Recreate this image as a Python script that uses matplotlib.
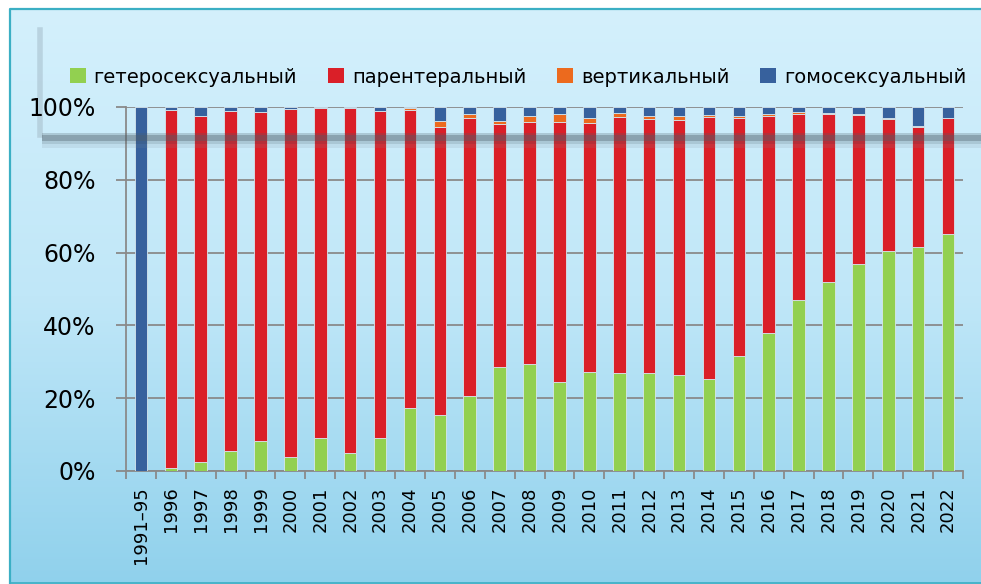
import numpy as np
import matplotlib
matplotlib.use("Agg")
import matplotlib.pyplot as plt
from matplotlib.colors import LinearSegmentedColormap
from matplotlib.patches import Patch, Rectangle

plt.rcParams["font.family"] = ["DejaVu Sans"]

# доли путей передачи, %
years = ["1991–95"] + [str(y) for y in range(1996, 2023)]
hetero = [0, 0.8, 2.5, 5.5, 8.2, 3.9, 9.1, 5.0, 9.2, 17.2, 15.3, 20.7, 28.6, 29.4,
          24.4, 27.2, 27.0, 26.8, 26.5, 25.2, 31.6, 37.8, 47.0, 51.8, 56.9, 60.4, 61.6, 65.0]
parent = [0, 98.5, 95.1, 93.5, 90.5, 95.6, 90.7, 94.6, 89.8, 81.9, 79.2, 76.2, 66.6, 66.6,
          71.6, 68.5, 70.3, 70.0, 70.0, 72.1, 65.3, 59.6, 51.0, 46.2, 40.8, 36.2, 32.9, 31.9]
vert = [0, 0, 0, 0, 0, 0, 0, 0.1, 0, 0.6, 1.6, 1.2, 1.0, 1.6,
        2.1, 1.2, 1.0, 0.8, 1.1, 0.5, 0.6, 0.8, 0.6, 0.4, 0.4, 0.4, 0.3, 0.1]
homo = [100, 0.7, 2.4, 1.0, 1.3, 0.5, 0.2, 0.3, 1.0, 0.3, 3.9, 1.9, 3.8, 2.4,
        1.9, 3.1, 1.7, 2.4, 2.4, 2.2, 2.5, 1.8, 1.4, 1.6, 1.9, 3.0, 5.2, 3.0]

series = [
    ("гетеросексуальный", hetero, "#92D050"),
    ("парентеральный", parent, "#DA1F28"),
    ("вертикальный", vert, "#EC6A1E"),
    ("гомосексуальный", homo, "#37619D"),
]

W, H = 981, 584
fig = plt.figure(figsize=(W / 100, H / 100), dpi=100)

# фон: белое поле + голубая панель с градиентом
bg = fig.add_axes([0, 0, 1, 1], zorder=-1)
bg.set_xlim(0, W)
bg.set_ylim(H, 0)
bg.axis("off")
cmap = LinearSegmentedColormap.from_list("bg", ["#D4F0FC", "#C0E7F8", "#90D1EC"])
grad = np.linspace(0, 1, 256).reshape(-1, 1)
bg.add_patch(Rectangle((0, 0), W, H, color="white", zorder=0))
bg.imshow(grad, cmap=cmap, extent=(10, W, H, 9), aspect="auto", zorder=1)
bg.plot([10, 10, W], [H, 9, 9], color="#3BAFC4", lw=1.6, zorder=2)
bg.plot([10, W], [H - 1, H - 1], color="#3BAFC4", lw=1.2, zorder=2)
bg.plot([40, 40], [30, 135], color="#A9C1CE", lw=4, alpha=0.6, zorder=2)

# основная диаграмма
ax = fig.add_axes([126 / W, (H - 471) / H, 837 / W, 364 / H])
ax.patch.set_alpha(0)
x = np.arange(len(years))
bottom = np.zeros(len(years))
for name, vals, col in series:
    vals = np.array(vals)
    ax.bar(x, vals, bottom=bottom, width=0.42, color=col,
           edgecolor="#D6E6EE", linewidth=0.6, label=name, zorder=3)
    bottom += vals

ax.set_xlim(-0.5, len(years) - 0.5)
ax.set_ylim(0, 100)
ax.set_yticks([0, 20, 40, 60, 80, 100])
ax.set_yticklabels(["0%", "20%", "40%", "60%", "80%", "100%"], fontsize=17)
ax.yaxis.grid(True, color="#8A8A8A", lw=1.3)
ax.set_axisbelow(True)
ax.tick_params(axis="y", length=7, width=1.3, color="#8A8A8A", pad=15)

ax.set_xticks(x)
ax.set_xticklabels(years, rotation=90, fontsize=13)
ax.set_xticks(np.arange(-0.5, len(years)), minor=True)
ax.tick_params(axis="x", which="major", length=0, pad=11)
ax.tick_params(axis="x", which="minor", length=6, width=1.3, color="#8A8A8A")

for s in ["top", "right"]:
    ax.spines[s].set_visible(False)
for s in ["left", "bottom"]:
    ax.spines[s].set_color("#8A8A8A")
    ax.spines[s].set_linewidth(1.3)

handles = [Patch(facecolor=c, edgecolor="none") for _, _, c in series]
fig.legend(handles, [n for n, _, _ in series], loc="center",
           bbox_to_anchor=(518 / W, 1 - 77 / H), ncol=4, frameon=False,
           fontsize=14, handlelength=0.82, handleheight=0.82,
           handletextpad=0.4, columnspacing=1.6)

# декоративная тень-полоса поверх графика
ov = fig.add_axes([0, 0, 1, 1], zorder=5)
ov.set_xlim(0, W)
ov.set_ylim(H, 0)
ov.axis("off")
ov.patch.set_alpha(0)
ov.add_patch(Rectangle((42, 133), W - 42, 11, color="#4E5E68", alpha=0.25, lw=0))
ov.add_patch(Rectangle((42, 135), W - 42, 6, color="#4E5E68", alpha=0.35, lw=0))
ov.add_patch(Rectangle((42, 144), W - 42, 4, color="#7A8C96", alpha=0.15, lw=0))

fig.savefig("out.png", dpi=100)
